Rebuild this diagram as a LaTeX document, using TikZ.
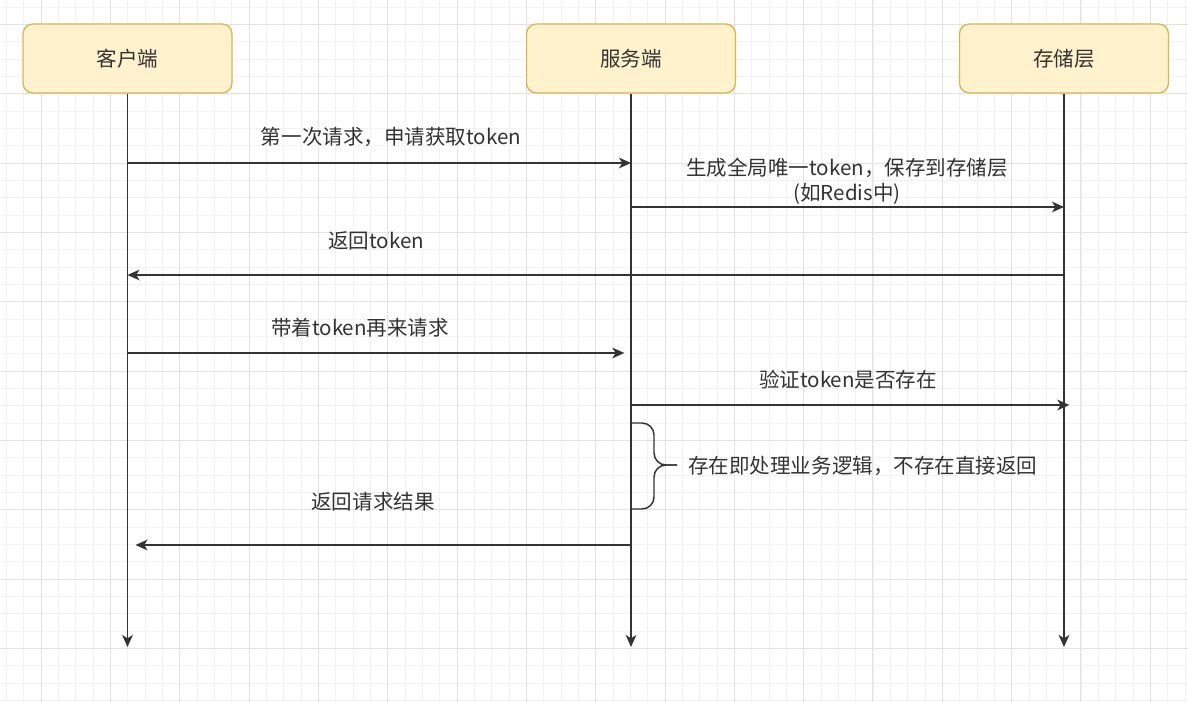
\documentclass[tikz,border=0pt]{standalone}
\usepackage{fontspec}
\setmainfont{Noto Sans CJK SC}
\usetikzlibrary{arrows.meta, positioning}
\definecolor{boxfill}{HTML}{FFF2CC}
\definecolor{boxline}{HTML}{D6B656}
\definecolor{inkgray}{HTML}{333333}
\definecolor{gridminor}{HTML}{F2F2F2}
\definecolor{gridmajor}{HTML}{E2E2E2}

\begin{document}
\begin{tikzpicture}[
  x=0.75pt, y=-0.75pt,
  actor/.style={draw=boxline, fill=boxfill, rounded corners=7.5pt, line width=1pt,
    minimum width=156.75pt, minimum height=51.75pt, text=inkgray,
    font=\fontsize{15.4}{18}\selectfont},
  life/.style={-{Stealth[length=9pt, width=8pt, inset=2.5pt]}, line width=1.3pt, draw=inkgray},
  msg/.style={life},
  lbl/.style={text=inkgray, align=center, inner sep=0pt,
    font=\fontsize{15.4}{19}\selectfont}
]
\useasboundingbox (0,0) rectangle (1188,702);
\fill[white] (0,0) rectangle (1188,702);
% grid
\foreach \k in {0,...,68} \draw[gridminor, line width=0.75pt] (6.6+17.33*\k,0) -- (6.6+17.33*\k,702);
\foreach \k in {0,...,40} \draw[gridminor, line width=0.75pt] (0,7.27+17.33*\k) -- (1188,7.27+17.33*\k);
\foreach \k in {0,...,16} \draw[gridmajor, line width=0.75pt] (41.3+69.3*\k,0) -- (41.3+69.3*\k,702);
\foreach \k in {0,...,9} \draw[gridmajor, line width=0.75pt] (0,24.6+69.3*\k) -- (1188,24.6+69.3*\k);

\node[actor] (client) at (127.5,58.5) {客户端};
\node[actor] (server) at (631,58.5) {服务端};
\node[actor] (storage) at (1064,58.5) {存储层};

\coordinate (bottom) at (0,647);
\draw[life] (client) -- (client |- bottom);
\draw[life] (server) -- (server |- bottom);
\draw[life] (storage) -- (storage |- bottom);

\coordinate (m1) at (0,163);
\coordinate (m2) at (0,207);
\coordinate (m3) at (0,275);
\coordinate (m4) at (0,353);
\coordinate (m5) at (0,405);
\coordinate (m6) at (0,545);

\draw[msg] (client |- m1) -- (server |- m1);
\draw[msg] (server |- m2) -- (storage |- m2);
\draw[msg] (storage |- m3) -- (client |- m3);
\draw[msg, shorten >=5pt] (client |- m4) -- (server |- m4);
\draw[msg, shorten >=-4pt] (server |- m5) -- (storage |- m5);
\draw[msg, shorten >=6pt] (server |- m6) -- (client |- m6);

\node[lbl] (t1) at (391,137) {第一次请求，申请获取token};
\node[lbl] (t2) at (847,181) {生成全局唯一token，保存到存储层\\(如Redis中)};
\node[lbl] (t3) at (376,241) {返回token};
\node[lbl] (t4) at (360,328) {带着token再来请求};
\node[lbl] (t5) at (848,380) {验证token是否存在};
\node[lbl] (t6) at (373,502) {返回请求结果};

% brace
\draw[inkgray, line width=1.1pt, rounded corners=9pt] (server |- 0,423) -| (654,465) -- (677,465);
\draw[inkgray, line width=1.1pt, rounded corners=9pt] (677,465) -- (654,465) |- (server |- 0,509);
\node[lbl, anchor=west] (t7) at (688,466) {存在即处理业务逻辑，不存在直接返回};
\end{tikzpicture}
\end{document}
